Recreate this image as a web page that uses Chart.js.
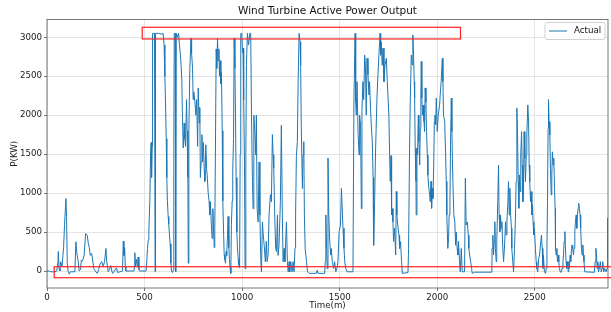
<!DOCTYPE html>
<html>
<head>
<meta charset="utf-8">
<script src="https://cdn.jsdelivr.net/npm/chart.js@4/dist/chart.umd.min.js"></script>
<style>
  html, body { margin: 0; padding: 0; background: #fff; }
  #wrap { width: 611px; height: 312px; }
</style>
</head>
<body>
<div id="wrap"><canvas id="graphic" width="611" height="312"></canvas></div>
<script>
// time in minutes
const times = [
  0,10,20,30,40,50,56,58,62,66,70,77,85,90,97,100,104,108,114,120,
  143,148,152,155,160,165,172,176,182,190,198,206,212,217,222,229,235,240,
  250,258,265,272,280,288,295,302,306,314,320,327,332,336,345,356,362,374,
  387,391,394,398,401,404,445,449,450,454,459,464,467,471,474,507,
  510,515,519,522,527,531,534,536,539,541,551,554,556,570,587,595,600,604,607,611,614,617,621,624,628,631,635,638,643,647,650,652,657,659,660,662,669,674,679,
  681,686,691,694,698,703,706,710,715,718,722,724,727,732,738,741,746,749,752,758,763,767,772,775,780,783,786,790,794,797,801,806,809,814,818,821,826,831,834,837,843,846,850,853,857,860,
  863,867,870,874,877,881,884,887,891,894,898,901,905,908,911,915,918,921,925,928,932,935,938,942,945,949,952,956,959,963,966,969,973,976,980,983,987,990,993,998,1002,1005,1008,1012,1015,1019,1022,1027,1033,1039,1044,
  1048,1053,1056,1060,1065,1070,1073,1077,1082,1087,1091,1096,1099,1104,1107,1113,1119,1124,1128,1133,1138,1145,1150,1155,1159,1162,1167,1172,1176,1181,1184,1189,1196,1201,1206,1210,1215,1219,1227,1232,1236,1241,1244,1249,1256,1261,1266,
  1271,1274,1278,1283,1287,1292,1297,1300,1303,1309,1312,1316,1319,1323,1330,1335,1343,1380,1385,1389,1423,1426,1429,1433,1436,1440,1444,1449,1454,1457,1462,1469,1474,1480,1486,1491,1497,1504,1509,1514,1517,1522,1526,1531,1538,
  1568,1573,1579,1582,1585,1589,1594,1599,1602,1607,1611,1614,1619,1623,1628,1632,1636,1640,1645,1650,1653,1658,1662,1667,1671,1674,1679,1684,1691,1696,1701,1707,1710,1713,1718,1722,1727,1732,1739,1744,1747,1752,1756,1759,1763,1766,1770,1773,1776,1781,1787,1790,1793,1799,1804,1807,1812,1817,1821,
  1850,1853,1858,1862,1867,1872,1875,1879,1882,1884,1887,1891,1892,1896,1899,1903,1906,1910,1913,1916,1918,1921,1925,1928,1932,1935,1938,1942,1945,1949,1952,1957,1961,1964,1968,1971,1975,1978,1982,1985,1988,1992,1995,2000,2005,2012,2015,2020,2026,2029,2032,2038,2043,2046,2049,2054,2058,2061,2065,2068,2072,2075,2080,2085,2090,2094,2097,2102,2106,2109,2114,2118,
  2123,2128,2140,2144,2148,2154,2159,2162,2166,2171,2176,2179,2191,2280,2281,2285,2288,2292,2295,2298,2302,2305,2310,2314,2317,2321,2324,2328,2331,2336,2340,2345,2350,2353,2357,2362,2365,2369,2372,2376,2380,2382,2387,2391,
  2396,2401,2404,2408,2411,2415,2418,2421,2425,2428,2432,2435,2439,2442,2445,2449,2452,2456,2459,2464,2468,2471,2474,2478,2481,2485,2488,2491,2495,2498,2503,2507,2510,2515,
  2520,2524,2529,2534,2538,2541,2544,2549,2555,2558,2562,2565,2568,2570,2573,2577,2580,2584,2587,2590,2594,2597,2601,2604,2606,2609,2613,2616,2620,2623,2626,2630,2635,2640,2644,2647,2650,2654,2657,2660,2664,2668,2671,2674,2677,2681,2684,2688,2691,2694,2698,2701,2705,2708,2712,2715,2718,2722,2725,2728,2732,2735,2739,2742,2746,2749,2752,2756,
  2805,2809,2813,2816,2819,2823,2826,2831,2836,2840,2845,2848,2853,2858,2865,2870,2873
];

// active power in kW
const power = [
  0,0,-10,-10,-10,0,120,250,30,0,120,60,300,600,930,700,100,0,-40,-10,
  -10,375,250,200,120,0,20,140,130,200,480,460,350,300,200,225,120,30,
  -10,-30,20,90,120,60,120,290,120,-10,20,70,0,-30,0,40,-20,-10,
  0,385,200,300,60,0,0,50,235,60,150,50,180,20,0,0,
  60,290,400,500,900,1530,1650,1200,1600,3050,3050,-10,3050,3050,3040,3050,2900,2500,2200,1700,1200,900,700,600,450,350,100,0,-20,10,1500,3050,3050,2900,-10,3050,3000,3050,2900,
  2900,2700,2450,2000,1580,1900,1700,1600,2200,1800,1200,100,1800,2600,2990,2800,2600,2200,2300,2170,2000,2200,1600,2350,1900,2100,1200,1400,1750,1400,1650,1300,1150,1620,1300,1230,1000,890,720,890,550,420,800,600,300,540,
  1500,2850,2600,2990,2700,2850,2500,2700,2400,2550,1800,900,500,210,150,100,250,200,460,700,300,150,50,-30,600,900,1300,1700,2990,2600,2000,1200,500,300,150,80,40,1500,3050,3050,2800,2860,2200,1400,30,1500,2650,3050,2900,3050,3050,
  2000,1150,800,2000,1790,1490,2000,800,630,1400,720,120,-10,630,500,330,120,380,120,200,720,980,890,1750,1490,1320,720,290,250,720,200,330,890,1870,720,120,290,120,630,120,-10,120,-10,120,-10,120,-10,
  300,720,1480,1660,2430,3050,2940,2640,1870,1060,1490,1660,720,290,120,-10,-30,-30,10,-30,-30,120,720,290,30,1450,720,380,205,290,120,34,120,-10,34,120,505,590,1060,720,550,290,120,34,-10,
  -10,2220,3050,2170,2000,2430,1790,1490,2000,1870,800,2050,2430,2200,2770,2640,2000,2730,2520,2260,2430,2090,1870,1660,1200,330,890,1570,2220,2520,2770,3050,2770,2940,2640,2860,2430,2640,2730,2430,2430,2000,1490,1150,1480,720,800,630,380,550,205,1020,720,550,460,290,377,120,-30,
  -20,290,1575,2220,2770,2645,3030,2730,2430,2220,1575,1150,720,1575,1490,2000,1660,1360,1830,2220,2690,2220,2000,2130,1920,1790,2350,2170,1790,1490,1230,1060,980,890,1150,805,1060,930,1360,1920,2000,1875,2220,1790,2000,2130,2260,2430,2730,2430,2000,1920,1490,1150,720,290,420,720,890,1620,2220,1790,1150,720,630,330,500,290,205,380,120,-10,
  290,-10,-10,1190,590,630,460,290,205,120,34,-30,-15,-15,290,460,205,377,633,290,120,377,890,1360,720,505,720,548,633,291,120,334,633,462,633,890,1147,719,1061,719,548,291,120,-10,
  291,719,1147,2090,1789,1147,805,1233,1019,1489,1789,1361,890,1061,1789,1447,1147,1489,1746,2131,1917,1361,1147,890,1019,719,848,633,462,548,291,120,34,-10,
  160,205,334,460,291,34,205,-10,-30,34,291,890,1830,2200,1917,1746,1318,976,1233,1530,1361,1447,1061,805,291,205,291,120,205,120,34,-10,-17,34,120,205,377,505,291,120,34,120,-10,120,34,205,120,291,334,291,205,291,505,633,719,548,719,805,869,805,719,548,291,205,334,205,120,-10,
  -17,120,291,205,34,120,-10,34,120,-10,34,120,-10,34,-10,34,680
];

const xTicks = [0, 500, 1000, 1500, 2000, 2500];
const yTicks = [0, 500, 1000, 1500, 2000, 2500, 3000];

// highlighted regions: [x0, x1, y0, y1]
const boxes = [
  [488, 2119, 2978, 3128],
  [37, 2990, -86, 55]
];

const FONT = "'DejaVu Sans', sans-serif";

const extras = {
  id: 'extras',
  afterDraw(chart) {
    const ctx = chart.ctx;
    const a = chart.chartArea;
    const xs = chart.scales.x, ys = chart.scales.y;
    ctx.save();

    // frame
    ctx.strokeStyle = '#555';
    ctx.lineWidth = 0.8;
    ctx.strokeRect(a.left, a.top, a.right - a.left, a.bottom - a.top);

    // red boxes
    ctx.strokeStyle = '#f22';
    ctx.lineWidth = 1.2;
    boxes.forEach(b => {
      const x0 = xs.getPixelForValue(b[0]);
      const x1 = xs.getPixelForValue(b[1]);
      const y0 = ys.getPixelForValue(b[2]);
      const y1 = ys.getPixelForValue(b[3]);
      ctx.strokeRect(x0, y1, x1 - x0, y0 - y1);
    });

    // title
    ctx.fillStyle = '#111';
    ctx.font = '10.5px ' + FONT;
    ctx.textAlign = 'center';
    ctx.textBaseline = 'middle';
    ctx.fillText('Wind Turbine Active Power Output', (a.left + a.right) / 2, 11.5);

    // legend
    const lx = a.right - 63, ly = a.top + 3, lw = 60, lh = 17;
    ctx.fillStyle = 'rgba(255,255,255,0.85)';
    ctx.strokeStyle = '#d0d0d0';
    ctx.lineWidth = 1;
    ctx.beginPath();
    ctx.roundRect(lx, ly, lw, lh, 2);
    ctx.fill();
    ctx.stroke();
    ctx.strokeStyle = '#1f77b4';
    ctx.lineWidth = 1;
    ctx.beginPath();
    ctx.moveTo(lx + 4, ly + lh / 2);
    ctx.lineTo(lx + 22, ly + lh / 2);
    ctx.stroke();
    ctx.fillStyle = '#111';
    ctx.font = '8.7px ' + FONT;
    ctx.textAlign = 'left';
    ctx.fillText('Actual', lx + 29, ly + lh / 2);
    ctx.restore();
  }
};

new Chart(graphic, {
  type: 'line',
  data: {
    datasets: [{
      label: 'Actual',
      data: times.map((t, i) => ({ x: t, y: power[i] })),
      borderColor: '#1f77b4',
      backgroundColor: '#1f77b4',
      borderWidth: 1,
      pointRadius: 0,
      tension: 0
    }]
  },
  options: {
    responsive: false,
    animation: false,
    parsing: false,
    layout: { padding: { top: 19.5, right: 3, left: 0, bottom: 0 } },
    plugins: {
      legend: { display: false },
      title: { display: false },
      tooltip: { enabled: false }
    },
    scales: {
      x: {
        type: 'linear',
        min: 0,
        max: 2875,
        afterBuildTicks: s => { s.ticks = xTicks.map(v => ({ value: v })); },
        afterFit: s => { s.height = 24; },
        border: { display: false },
        grid: { color: '#dedede', lineWidth: 0.8, tickLength: 3, tickColor: '#555' },
        ticks: {
          padding: 1.5, maxRotation: 0, color: '#222',
          font: { family: FONT, size: 8.7 },
          callback: v => String(v)
        },
        title: {
          display: true, text: 'Time(m)', color: '#222',
          font: { family: FONT, size: 8.7 },
          padding: { top: 1.2, bottom: 1.2 }
        }
      },
      y: {
        min: -218,
        max: 3228,
        afterBuildTicks: s => { s.ticks = yTicks.map(v => ({ value: v })); },
        afterFit: s => { s.width = 47; },
        border: { display: false },
        grid: { color: '#dedede', lineWidth: 0.8, tickLength: 3, tickColor: '#555' },
        ticks: {
          padding: 2, color: '#222',
          font: { family: FONT, size: 8.7 },
          callback: v => String(v)
        },
        title: {
          display: true, text: 'P(KW)', color: '#222',
          font: { family: FONT, size: 8.7 },
          padding: { top: 10, bottom: 10 }
        }
      }
    }
  },
  plugins: [extras]
});
</script>
</body>
</html>
